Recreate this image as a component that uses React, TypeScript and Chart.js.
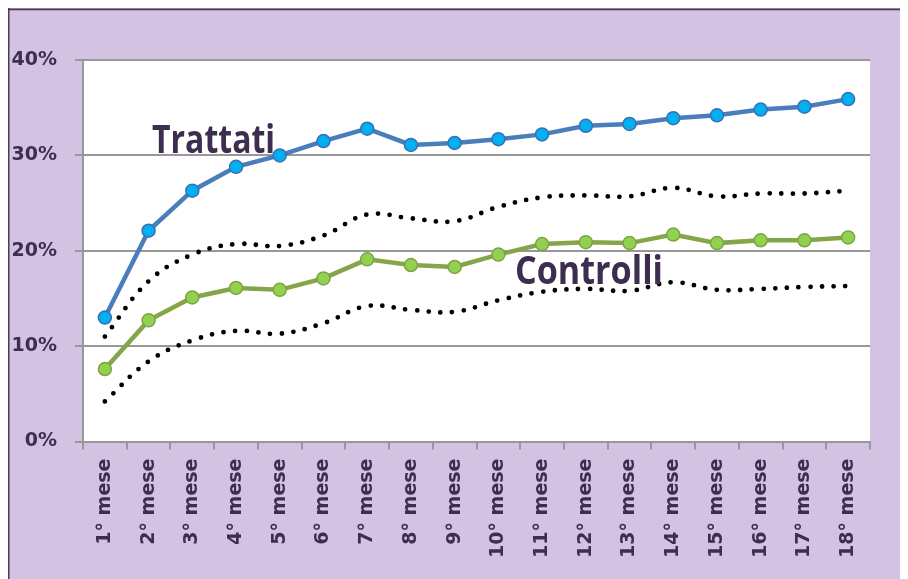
import React, { useEffect, useRef } from 'react';
import { Chart, registerables } from 'chart.js';

Chart.register(...registerables);

const months = ['1° mese', '2° mese', '3° mese', '4° mese', '5° mese', '6° mese', '7° mese', '8° mese', '9° mese',
  '10° mese', '11° mese', '12° mese', '13° mese', '14° mese', '15° mese', '16° mese', '17° mese', '18° mese'];
const trattati = [13.0, 22.1, 26.3, 28.8, 30.0, 31.5, 32.8, 31.1, 31.3, 31.7, 32.2, 33.1, 33.3, 33.9, 34.2, 34.8, 35.1, 35.9];
const controlli = [7.6, 12.7, 15.1, 16.1, 15.9, 17.1, 19.1, 18.5, 18.3, 19.6, 20.7, 20.9, 20.8, 21.7, 20.8, 21.1, 21.1, 21.4];
const controlliUpper = [11.0, 16.8, 19.6, 20.7, 20.5, 21.6, 23.8, 23.4, 23.1, 24.6, 25.6, 25.8, 25.7, 26.6, 25.7, 26.0, 26.0, 26.3];
const controlliLower = [4.2, 8.4, 10.6, 11.6, 11.3, 12.4, 14.2, 13.8, 13.6, 14.8, 15.7, 16.0, 15.8, 16.7, 15.9, 16.0, 16.2, 16.3];
const yMin = 0;
const yMax = 40;
const yStep = 10;

// annotation labels: [text, category position, value at baseline, target width]
const labelTrattati = { text: 'Trattati', x: 1.08, y: 30.26, w: 123 };
const labelControlli = { text: 'Controlli', x: 9.38, y: 16.5, w: 148 };

const PURPLE = '#D4C2E2';
const BORDER = '#4B3A5E';
const TEXT = '#3D2E50';
const GRID = '#989898';

const bgPlugin = {
  id: 'bgPlugin',
  beforeDraw(chart: any) {
    const { ctx, width, height, chartArea } = chart;
    ctx.save();
    ctx.fillStyle = PURPLE;
    ctx.fillRect(0, 0, width, height);
    ctx.fillStyle = BORDER;
    ctx.fillRect(0, 0.5, width, 1.8);
    ctx.fillRect(0, 0, 1.5, height);
    ctx.fillStyle = '#ffffff';
    ctx.fillRect(chartArea.left, chartArea.top, chartArea.right - chartArea.left, chartArea.bottom - chartArea.top);
    ctx.restore();
  },
};

const textPlugin = {
  id: 'textPlugin',
  afterDatasetsDraw(chart: any) {
    const { ctx, scales } = chart;
    ctx.save();
    ctx.fillStyle = TEXT;
    ctx.font = 'bold 40px "Open Sans"';
    ctx.textBaseline = 'alphabetic';
    ctx.textAlign = 'left';
    for (const l of [labelTrattati, labelControlli]) {
      const px = scales.x.getPixelForValue(l.x);
      const py = scales.y.getPixelForValue(l.y);
      const m = ctx.measureText(l.text).width;
      ctx.save();
      ctx.translate(px, py);
      ctx.scale(l.w / m, 1);
      ctx.fillText(l.text, 0, 0);
      ctx.restore();
    }
    ctx.restore();
  },
};

export default function App() {
  const ref = useRef<HTMLCanvasElement>(null);
  useEffect(() => {
    const tickFont = { family: '"DejaVu Sans"', size: 19, weight: 'bold' as const };
    const chart = new Chart(ref.current!, {
      type: 'line',
      data: {
        labels: months,
        datasets: [
          {
            label: 'Trattati',
            data: trattati,
            borderColor: '#4A7EBB',
            borderWidth: 4.5,
            pointRadius: 6.5,
            pointBorderWidth: 1.5,
            pointBackgroundColor: '#00B0F0',
            pointBorderColor: '#3C6EB4',
            tension: 0,
            fill: false,
          },
          {
            label: 'Controlli',
            data: controlli,
            borderColor: '#84A548',
            borderWidth: 4.5,
            pointRadius: 6.5,
            pointBorderWidth: 1.5,
            pointBackgroundColor: '#92D050',
            pointBorderColor: '#7EA345',
            tension: 0,
            fill: false,
          },
          {
            label: 'Controlli sup',
            data: controlliUpper,
            borderColor: '#000000',
            borderWidth: 4.8,
            borderDash: [0, 11.7],
            borderCapStyle: 'round',
            pointRadius: 0,
            tension: 0.4,
            fill: false,
          },
          {
            label: 'Controlli inf',
            data: controlliLower,
            borderColor: '#000000',
            borderWidth: 4.8,
            borderDash: [0, 11.7],
            borderCapStyle: 'round',
            pointRadius: 0,
            tension: 0.4,
            fill: false,
          },
        ],
      },
      options: {
        responsive: false,
        animation: false,
        layout: { padding: { left: 0, right: 38, top: 52, bottom: 0 } },
        plugins: { legend: { display: false }, tooltip: { enabled: false } },
        scales: {
          x: {
            offset: true,
            grid: {
              display: true,
              drawOnChartArea: false,
              drawTicks: true,
              tickLength: 8,
              offset: true,
              color: GRID,
              lineWidth: 2,
            },
            border: { display: true, color: GRID, width: 2 },
            ticks: {
              autoSkip: false,
              minRotation: 90,
              maxRotation: 90,
              padding: 9,
              color: TEXT,
              font: tickFont,
            },
            afterFit(scale: any) {
              scale.height = 137.5;
            },
          },
          y: {
            min: yMin,
            max: yMax,
            grid: { color: GRID, lineWidth: 2, tickLength: 8, drawTicks: true },
            border: { display: true, color: GRID, width: 2 },
            ticks: {
              stepSize: yStep,
              padding: 18,
              color: TEXT,
              font: tickFont,
              callback: (v: any) => v + '%',
            },
            afterFit(scale: any) {
              scale.width = 75;
            },
          },
        },
      },
      plugins: [bgPlugin, textPlugin],
    });
    return () => chart.destroy();
  }, []);
  return (
    <div style={{ width: 900, height: 571 }}>
      <canvas ref={ref} width={900} height={571} style={{ display: 'block' }} />
    </div>
  );
}
